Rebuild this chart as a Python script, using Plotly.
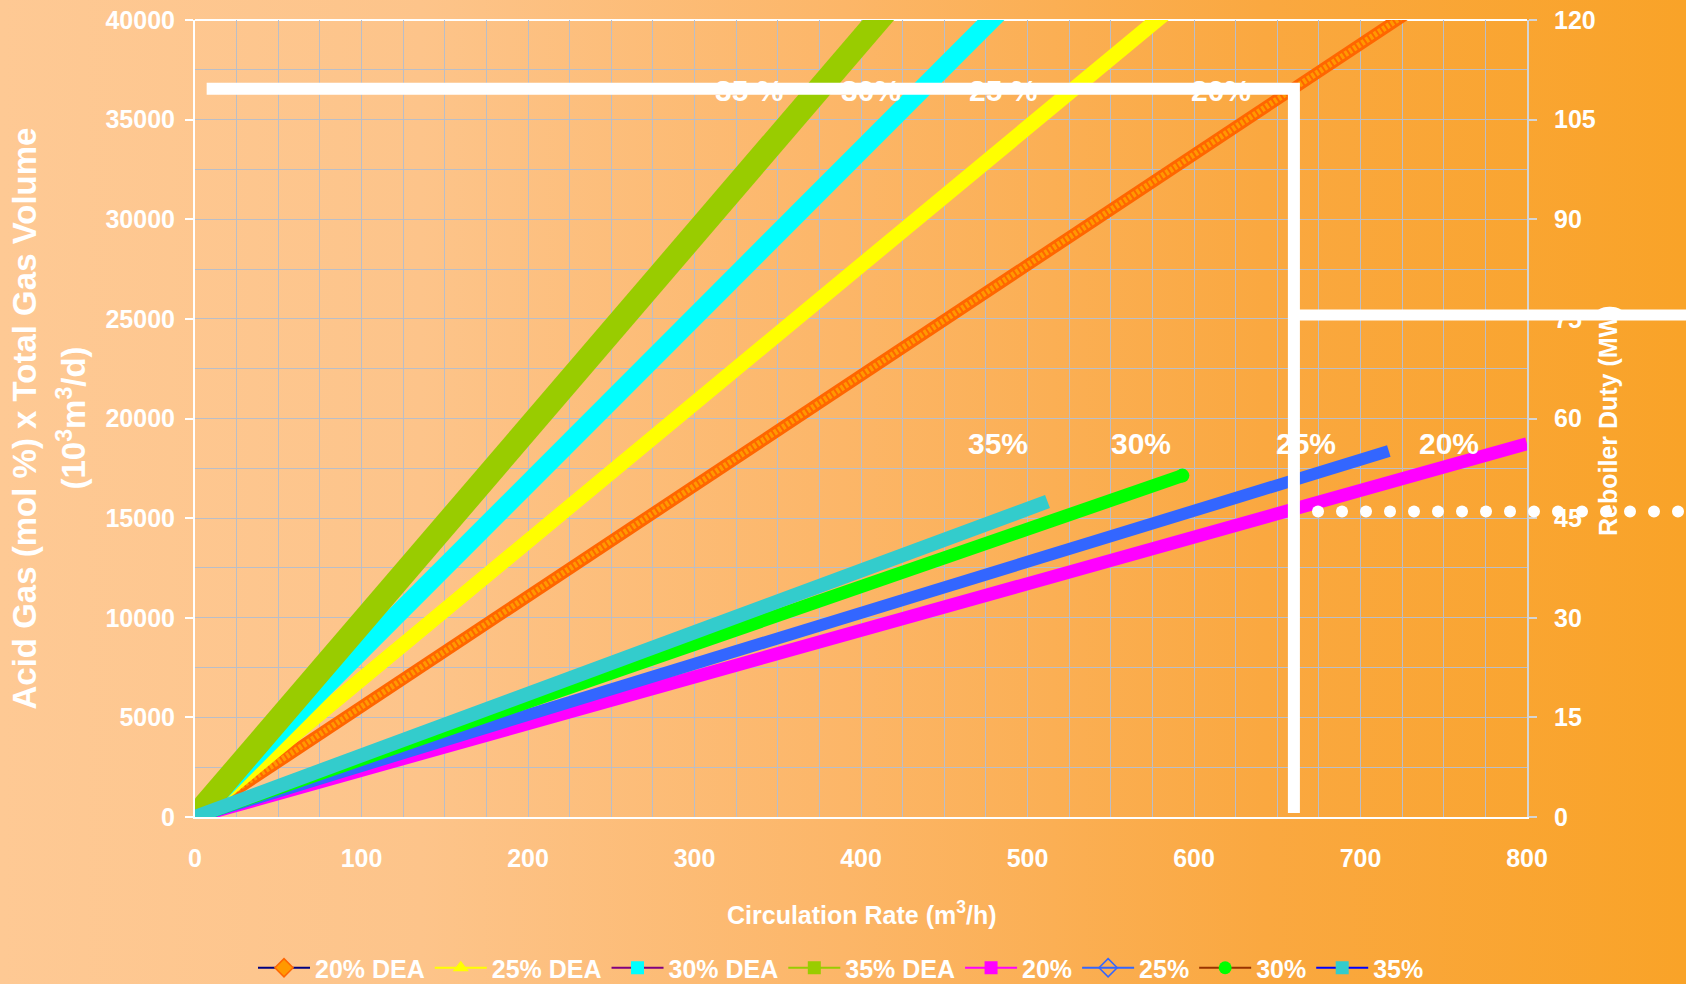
import base64
import plotly.graph_objects as go

W, H = 1686, 984
ML, MR, MT, MB = 195, 159, 20, 167
PW, PH = W - ML - MR, H - MT - MB

FONT = "Liberation Sans"
WHITE = "#ffffff"
GRID = "rgb(186,190,200)"

# Acid-gas removal capacity (10^3 m3/d) versus circulation rate (m3/h)
dea20_x = [0, 100, 200, 300, 400, 500, 600, 700, 730]
dea20_y = [0, 5550, 11100, 16650, 22150, 27700, 33250, 38800, 40450]
dea25_x = [0, 100, 200, 300, 400, 500, 585]
dea25_y = [0, 6900, 13850, 20750, 27700, 34600, 40500]
dea30_x = [0, 100, 200, 300, 400, 485]
dea30_y = [0, 8370, 16740, 25100, 33470, 40580]
dea35_x = [0, 100, 200, 300, 400, 415]
dea35_y = [0, 9750, 19500, 29250, 39000, 40450]

# Reboiler duty (MW) versus circulation rate (m3/h)
rb20_x = [0, 100, 200, 300, 400, 500, 600, 700, 800]
rb20_y = [0, 7.0, 14.1, 21.1, 28.1, 35.1, 42.2, 49.2, 56.2]
rb25_x = [0, 100, 200, 300, 400, 500, 600, 717]
rb25_y = [0, 7.7, 15.4, 23.0, 30.7, 38.4, 46.1, 55.1]
rb30_x = [0, 100, 200, 300, 400, 500, 593]
rb30_y = [0, 8.7, 17.3, 26.0, 34.7, 43.4, 51.4]
rb35_x = [0, 100, 200, 300, 400, 500, 512]
rb35_y = [0, 9.3, 18.6, 27.8, 37.1, 46.4, 47.5]

# Curve labels
upper_text = ["35 %", "30%", "25 %", "20%"]
upper_x = [333, 406, 485, 616]
upper_y = 36450
lower_text = ["35%", "30%", "25%", "20%"]
lower_x = [482, 568, 667, 753]
lower_y = 56.3

# Design point guide lines
design_rate = 660
capacity_at_design = 36550
duty_line_mw = 75.6
duty_dots_mw = 46.0

# series: name, x, y, axis, band colour, band width, legend line colour, legend marker
series = [
    ("20% DEA", dea20_x, dea20_y, "y", "#ff6600", 12, "#000080",
     dict(symbol="diamond", color="#ff9900", size=14, line=dict(color="#ff6600", width=1.5))),
    ("25% DEA", dea25_x, dea25_y, "y", "#ffff00", 15, "#ffff00",
     dict(symbol="triangle-up", color="#ffff00", size=14)),
    ("30% DEA", dea30_x, dea30_y, "y", "#00ffff", 19, "#800080",
     dict(symbol="square", color="#00ffff", size=13)),
    ("35% DEA", dea35_x, dea35_y, "y", "#99cc00", 24, "#99cc00",
     dict(symbol="square", color="#99cc00", size=13)),
    ("20%", rb20_x, rb20_y, "y2", "#ff00ff", 13, "#ff00ff",
     dict(symbol="square", color="#ff00ff", size=13)),
    ("25%", rb25_x, rb25_y, "y2", "#3366ff", 12, "#3366ff",
     dict(symbol="diamond-open", color="#3366ff", size=14, line=dict(width=1.5))),
    ("30%", rb30_x, rb30_y, "y2", "#00ff00", 13, "#993300",
     dict(symbol="circle", color="#00ff00", size=13)),
    ("35%", rb35_x, rb35_y, "y2", "#33cccc", 14, "#0000ff",
     dict(symbol="square", color="#33cccc", size=13)),
]

fig = go.Figure()

# legend entries (Excel-style line + marker)
for name, xs, ys, ax, band, bw, lcol, mk in series:
    fig.add_trace(go.Scatter(
        x=[None], y=[None], yaxis=ax, name=name, mode="lines+markers",
        line=dict(color=lcol, width=2), marker=mk, legendgroup=name,
    ))

# thick curves
for name, xs, ys, ax, band, bw, lcol, mk in series:
    fig.add_trace(go.Scatter(
        x=xs, y=ys, yaxis=ax, mode="lines", showlegend=False,
        line=dict(color=band, width=bw), legendgroup=name, hoverinfo="skip",
    ))
    if name == "20% DEA":
        # lighter diamond centres give the band its hatched look
        fig.add_trace(go.Scatter(
            x=xs, y=ys, yaxis=ax, mode="lines", showlegend=False,
            line=dict(color="#ff9900", width=6, dash="3px,2px"),
            legendgroup=name, hoverinfo="skip",
        ))
    if name == "30%":
        # round end of the circle-marker curve
        fig.add_trace(go.Scatter(
            x=xs[-1:], y=ys[-1:], yaxis=ax, mode="markers", showlegend=False,
            marker=dict(color=band, size=bw + 1), legendgroup=name,
            hoverinfo="skip", cliponaxis=False,
        ))

# gradient backdrop
svg = (
    f'<svg xmlns="http://www.w3.org/2000/svg" width="{W}" height="{H}" '
    f'viewBox="0 0 {W} {H}" preserveAspectRatio="none">'
    '<defs><linearGradient id="g" x1="0" y1="0" x2="1" y2="0">'
    '<stop offset="0" stop-color="rgb(254,201,148)"/>'
    '<stop offset="0.25" stop-color="rgb(253,196,138)"/>'
    '<stop offset="0.5" stop-color="rgb(252,182,104)"/>'
    '<stop offset="0.75" stop-color="rgb(250,168,64)"/>'
    '<stop offset="1" stop-color="rgb(249,163,40)"/>'
    '</linearGradient></defs>'
    f'<rect x="0" y="0" width="{W}" height="{H}" fill="url(#g)"/></svg>'
)
bg_src = "data:image/svg+xml;base64," + base64.b64encode(svg.encode()).decode()

fig.add_layout_image(dict(
    source=bg_src, xref="paper", yref="paper",
    x=-ML / PW, y=1 + MT / PH, sizex=W / PW, sizey=H / PH,
    xanchor="left", yanchor="top", sizing="stretch", layer="below",
))

shapes = [
    # top border of plot area
    dict(type="line", xref="paper", yref="paper", x0=0, x1=1, y0=1, y1=1,
         line=dict(color=WHITE, width=2), layer="below"),
    # capacity -> circulation rate guide
    dict(type="path", xref="x", yref="y",
         path=f"M 7,{capacity_at_design} L {design_rate},{capacity_at_design} L {design_rate},200",
         line=dict(color=WHITE, width=12), layer="above"),
    # duty guide, extends to the page edge
    dict(type="line", xref="paper", yref="paper",
         x0=design_rate / 800, x1=(W - ML) / PW,
         y0=duty_line_mw / 120, y1=duty_line_mw / 120,
         line=dict(color=WHITE, width=11), layer="above"),
]

# dotted duty guide from the design rate out to the page edge
dot_px = 1318
while dot_px < W + 6:
    shapes.append(dict(
        type="circle", xref="paper", yref="paper",
        xsizemode="pixel", ysizemode="pixel",
        xanchor=(dot_px - ML) / PW, yanchor=duty_dots_mw / 120,
        x0=-6, x1=6, y0=-6, y1=6,
        fillcolor=WHITE, line=dict(width=0), layer="above",
    ))
    dot_px += 24

annotations = []
for t, x in zip(upper_text, upper_x):
    annotations.append(dict(x=x, y=upper_y, xref="x", yref="y", text=t, showarrow=False,
                            font=dict(family=FONT, size=30, color=WHITE, weight="bold")))
for t, x in zip(lower_text, lower_x):
    annotations.append(dict(x=x, y=lower_y, xref="x", yref="y2", text=t, showarrow=False,
                            font=dict(family=FONT, size=30, color=WHITE, weight="bold")))

# axis titles
annotations += [
    dict(text="Acid Gas (mol %) x Total Gas Volume", textangle=-90,
         xref="paper", yref="paper", x=(24 - ML) / PW, y=0.5,
         xanchor="center", yanchor="middle", showarrow=False,
         font=dict(family=FONT, size=33, color=WHITE, weight="bold")),
    dict(text="(10<sup>3</sup>m<sup>3</sup>/d)", textangle=-90,
         xref="paper", yref="paper", x=(71 - ML) / PW, y=0.5,
         xanchor="center", yanchor="middle", showarrow=False,
         font=dict(family=FONT, size=33, color=WHITE, weight="bold")),
    dict(text="Reboiler Duty (MW)", textangle=-90,
         xref="paper", yref="paper", x=(1608 - ML) / PW, y=(H - MB - 421) / PH,
         xanchor="center", yanchor="middle", showarrow=False,
         font=dict(family=FONT, size=25, color=WHITE, weight="bold")),
    dict(text="Circulation Rate (m<sup>3</sup>/h)",
         xref="paper", yref="paper", x=(862 - ML) / PW, y=-(913 - (H - MB)) / PH,
         xanchor="center", yanchor="middle", showarrow=False,
         font=dict(family=FONT, size=25, color=WHITE, weight="bold")),
]

tickfont = dict(family=FONT, size=25, color=WHITE, weight="bold")

fig.update_layout(
    width=W, height=H,
    margin=dict(l=ML, r=MR, t=MT, b=MB, pad=0, autoexpand=False),
    paper_bgcolor="rgba(0,0,0,0)", plot_bgcolor="rgba(0,0,0,0)",
    showlegend=True,
    legend=dict(
        orientation="h", x=(841 - ML) / PW, xanchor="center",
        y=-(968 - (H - MB)) / PH, yanchor="middle",
        font=dict(family=FONT, size=25, color=WHITE, weight="bold"),
        bgcolor="rgba(0,0,0,0)", itemwidth=52, tracegroupgap=0,
    ),
    xaxis=dict(
        range=[0, 800], tick0=0, dtick=100, tickformat="d",
        showgrid=True, gridcolor=GRID, gridwidth=1,
        minor=dict(dtick=25, tick0=0, showgrid=True, gridcolor=GRID, gridwidth=1),
        showline=True, linecolor=WHITE, linewidth=2, zeroline=False,
        ticks="", tickfont=tickfont, ticklabelstandoff=18,
    ),
    yaxis=dict(
        range=[0, 40000], tick0=0, dtick=5000, tickformat="d",
        showgrid=True, gridcolor=GRID, gridwidth=1,
        minor=dict(dtick=2500, tick0=0, showgrid=True, gridcolor=GRID, gridwidth=1),
        showline=True, linecolor=WHITE, linewidth=2, zeroline=False,
        ticks="outside", ticklen=8, tickcolor=WHITE, tickwidth=2,
        tickfont=tickfont, ticklabelstandoff=5,
    ),
    yaxis2=dict(
        range=[0, 120], tick0=0, dtick=15, tickformat="d",
        overlaying="y", side="right", showgrid=False, zeroline=False,
        showline=True, linecolor="#d4d4d4", linewidth=2,
        ticks="outside", ticklen=8, tickcolor="#d4d4d4", tickwidth=2,
        tickfont=tickfont, ticklabelstandoff=12,
    ),
    shapes=shapes,
    annotations=annotations,
)

fig.write_html("out.html")
